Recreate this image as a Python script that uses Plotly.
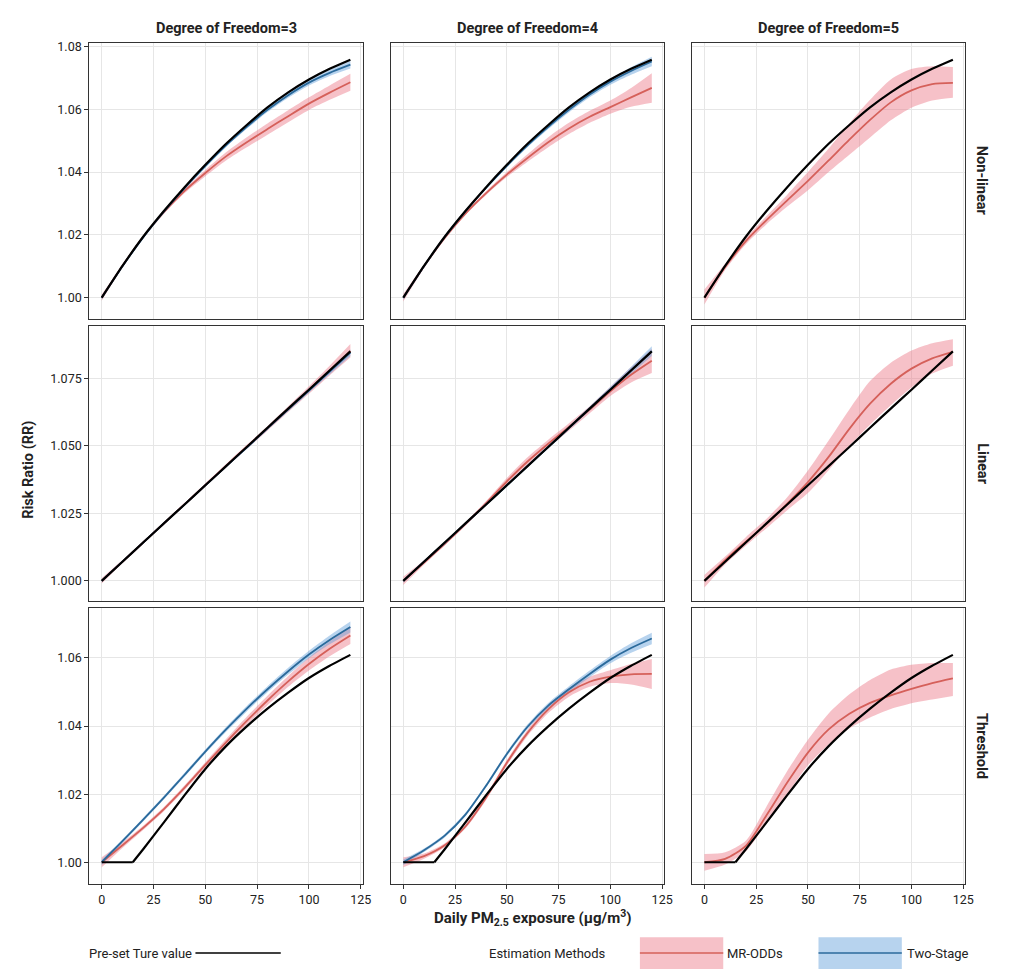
import plotly.graph_objects as go

W, H = 1013, 976

# ---------------- data ----------------
x = [0, 10, 20, 30, 40, 50, 60, 70, 80, 90, 100, 110, 120]
x_thr = [0, 15, 20, 30, 40, 50, 60, 70, 80, 90, 100, 110, 120]

truth_nonlinear = [1.0000, 1.0101, 1.0194, 1.0276, 1.0352, 1.0423, 1.0490, 1.0550, 1.0606, 1.0654, 1.0695, 1.0729, 1.0758]
truth_linear = [1.0000, 1.0071, 1.0142, 1.0213, 1.0283, 1.0354, 1.0425, 1.0496, 1.0567, 1.0638, 1.0708, 1.0779, 1.0850]
truth_threshold = [1.0000, 1.0000, 1.0038, 1.0117, 1.0197, 1.0274, 1.0341, 1.0399, 1.0451, 1.0498, 1.0541, 1.0577, 1.0609]

# Non-linear
mr_nl_df3 = [1.0000, 1.0101, 1.0193, 1.0272, 1.0340, 1.0397, 1.0450, 1.0495, 1.0537, 1.0578, 1.0618, 1.0653, 1.0686]
mr_nl_df3_se = [0.0010, 0.0005, 0.0004, 0.0005, 0.0007, 0.0010, 0.0013, 0.0016, 0.0018, 0.0019, 0.0020, 0.0023, 0.0027]
ts_nl_df3 = [1.0000, 1.0100, 1.0192, 1.0274, 1.0349, 1.0419, 1.0485, 1.0544, 1.0598, 1.0645, 1.0685, 1.0716, 1.0742]
ts_nl_df3_se = [0.0006, 0.0004, 0.0003, 0.0003, 0.0003, 0.0004, 0.0005, 0.0006, 0.0007, 0.0008, 0.0009, 0.0010, 0.0012]

mr_nl_df4 = [1.0000, 1.0100, 1.0190, 1.0268, 1.0333, 1.0392, 1.0445, 1.0495, 1.0539, 1.0576, 1.0607, 1.0638, 1.0668]
mr_nl_df4_se = [0.0012, 0.0006, 0.0004, 0.0005, 0.0006, 0.0008, 0.0012, 0.0016, 0.0018, 0.0019, 0.0021, 0.0030, 0.0047]
ts_nl_df4 = [1.0000, 1.0100, 1.0193, 1.0275, 1.0350, 1.0420, 1.0485, 1.0544, 1.0598, 1.0647, 1.0688, 1.0722, 1.0752]
ts_nl_df4_se = [0.0007, 0.0004, 0.0003, 0.0003, 0.0004, 0.0005, 0.0006, 0.0007, 0.0008, 0.0009, 0.0010, 0.0012, 0.0015]

mr_nl_df5 = [1.0000, 1.0098, 1.0180, 1.0247, 1.0310, 1.0372, 1.0437, 1.0503, 1.0566, 1.0622, 1.0660, 1.0680, 1.0684]
mr_nl_df5_lo = [0.9978, 1.0088, 1.0170, 1.0234, 1.0290, 1.0342, 1.0400, 1.0455, 1.0510, 1.0565, 1.0605, 1.0628, 1.0637]
mr_nl_df5_hi = [1.0026, 1.0108, 1.0190, 1.0260, 1.0328, 1.0400, 1.0475, 1.0555, 1.0630, 1.0695, 1.0728, 1.0737, 1.0735]

# Linear
mr_li_df3 = [1.0000, 1.0071, 1.0142, 1.0213, 1.0284, 1.0355, 1.0426, 1.0496, 1.0565, 1.0636, 1.0707, 1.0779, 1.0852]
mr_li_df3_se = [0.0010, 0.0006, 0.0005, 0.0005, 0.0005, 0.0006, 0.0007, 0.0008, 0.0009, 0.0011, 0.0014, 0.0018, 0.0025]
ts_li_df3 = [1.0000, 1.0071, 1.0142, 1.0213, 1.0283, 1.0354, 1.0424, 1.0494, 1.0565, 1.0635, 1.0705, 1.0775, 1.0845]
ts_li_df3_se = [0.0005, 0.0004, 0.0003, 0.0003, 0.0003, 0.0004, 0.0004, 0.0005, 0.0006, 0.0007, 0.0008, 0.0010, 0.0012]

mr_li_df4 = [1.0000, 1.0068, 1.0137, 1.0210, 1.0288, 1.0368, 1.0442, 1.0508, 1.0570, 1.0634, 1.0702, 1.0763, 1.0815]
mr_li_df4_se = [0.0015, 0.0008, 0.0006, 0.0006, 0.0008, 0.0013, 0.0016, 0.0015, 0.0014, 0.0013, 0.0017, 0.0028, 0.0045]
ts_li_df4 = [1.0000, 1.0071, 1.0141, 1.0212, 1.0283, 1.0354, 1.0425, 1.0496, 1.0567, 1.0638, 1.0709, 1.0780, 1.0851]
ts_li_df4_se = [0.0006, 0.0004, 0.0003, 0.0003, 0.0004, 0.0005, 0.0005, 0.0006, 0.0007, 0.0008, 0.0010, 0.0013, 0.0018]

mr_li_df5 = [1.0000, 1.0077, 1.0145, 1.0211, 1.0286, 1.0366, 1.0459, 1.0563, 1.0656, 1.0730, 1.0786, 1.0824, 1.0848]
mr_li_df5_lo = [0.9975, 1.0061, 1.0130, 1.0195, 1.0262, 1.0325, 1.0410, 1.0500, 1.0578, 1.0650, 1.0716, 1.0768, 1.0797]
mr_li_df5_hi = [1.0022, 1.0090, 1.0162, 1.0230, 1.0310, 1.0409, 1.0520, 1.0635, 1.0740, 1.0808, 1.0853, 1.0880, 1.0895]

# Threshold
mr_th_df3 = [1.0000, 1.0050, 1.0101, 1.0156, 1.0219, 1.0286, 1.0352, 1.0415, 1.0475, 1.0531, 1.0582, 1.0627, 1.0666]
mr_th_df3_se = [0.0015, 0.0008, 0.0006, 0.0006, 0.0007, 0.0008, 0.0010, 0.0012, 0.0014, 0.0016, 0.0019, 0.0022, 0.0025]
ts_th_df3 = [1.0000, 1.0062, 1.0125, 1.0190, 1.0257, 1.0325, 1.0390, 1.0451, 1.0508, 1.0561, 1.0610, 1.0653, 1.0691]
ts_th_df3_se = [0.0008, 0.0005, 0.0005, 0.0005, 0.0006, 0.0006, 0.0007, 0.0008, 0.0009, 0.0010, 0.0011, 0.0013, 0.0016]

mr_th_df4 = [1.0000, 1.0018, 1.0050, 1.0105, 1.0190, 1.0292, 1.0380, 1.0449, 1.0499, 1.0530, 1.0545, 1.0552, 1.0553]
mr_th_df4_se = [0.0015, 0.0008, 0.0006, 0.0006, 0.0007, 0.0008, 0.0009, 0.0011, 0.0013, 0.0015, 0.0019, 0.0030, 0.0044]
ts_th_df4 = [1.0000, 1.0035, 1.0078, 1.0140, 1.0225, 1.0318, 1.0398, 1.0460, 1.0508, 1.0553, 1.0595, 1.0629, 1.0657]
ts_th_df4_se = [0.0008, 0.0005, 0.0005, 0.0005, 0.0005, 0.0006, 0.0007, 0.0008, 0.0009, 0.0010, 0.0011, 0.0014, 0.0017]

mr_th_df5 = [1.0000, 1.0010, 1.0048, 1.0138, 1.0234, 1.0322, 1.0390, 1.0436, 1.0468, 1.0490, 1.0509, 1.0526, 1.0540]
mr_th_df5_lo = [0.9975, 0.9993, 1.0032, 1.0115, 1.0200, 1.0285, 1.0346, 1.0393, 1.0425, 1.0450, 1.0467, 1.0478, 1.0488]
mr_th_df5_hi = [1.0024, 1.0029, 1.0063, 1.0164, 1.0268, 1.0360, 1.0437, 1.0493, 1.0535, 1.0566, 1.0580, 1.0585, 1.0585]

col_titles = ["Degree of Freedom=3", "Degree of Freedom=4", "Degree of Freedom=5"]
row_titles = ["Non-linear", "Linear", "Threshold"]
x_ticks = [0, 25, 50, 75, 100, 125]
y_ticks_rows = [[1.00, 1.02, 1.04, 1.06, 1.08],
                [1.000, 1.025, 1.050, 1.075],
                [1.00, 1.02, 1.04, 1.06]]
y_fmt_rows = [".2f", ".3f", ".2f"]
y_range_rows = [[0.9933, 1.0810], [0.9926, 1.0944], [0.9935, 1.0746]]
x_range = [-6, 126]

def lohi(c, se):
    return [a - b for a, b in zip(c, se)], [a + b for a, b in zip(c, se)]

panels = {}
for (r, c, mr, mrse, ts, tsse) in [
    (0, 0, mr_nl_df3, mr_nl_df3_se, ts_nl_df3, ts_nl_df3_se),
    (0, 1, mr_nl_df4, mr_nl_df4_se, ts_nl_df4, ts_nl_df4_se),
    (1, 0, mr_li_df3, mr_li_df3_se, ts_li_df3, ts_li_df3_se),
    (1, 1, mr_li_df4, mr_li_df4_se, ts_li_df4, ts_li_df4_se),
    (2, 0, mr_th_df3, mr_th_df3_se, ts_th_df3, ts_th_df3_se),
    (2, 1, mr_th_df4, mr_th_df4_se, ts_th_df4, ts_th_df4_se)]:
    ml, mh = lohi(mr, mrse)
    tl, th = lohi(ts, tsse)
    panels[(r, c)] = dict(mr=mr, mlo=ml, mhi=mh, ts=ts, tlo=tl, thi=th)
panels[(0, 2)] = dict(mr=mr_nl_df5, mlo=mr_nl_df5_lo, mhi=mr_nl_df5_hi, ts=None)
panels[(1, 2)] = dict(mr=mr_li_df5, mlo=mr_li_df5_lo, mhi=mr_li_df5_hi, ts=None)
panels[(2, 2)] = dict(mr=mr_th_df5, mlo=mr_th_df5_lo, mhi=mr_th_df5_hi, ts=None)
truths = [(x, truth_nonlinear), (x, truth_linear), (x_thr, truth_threshold)]

# ---------------- styles ----------------
RED = "#D5605A"
RED_FILL = "rgba(236,118,132,0.45)"
BLUE = "#2B6A9B"
BLUE_FILL = "rgba(96,158,218,0.45)"
FONT = "Roboto"
TXT = "#222222"
SM = 0.7

col_px = [(90, 365.7), (394, 669.5), (697.5, 973)]
row_px = [(39.5, 316), (323.3, 599.3), (606.7, 884)]

fig = go.Figure()
layout = dict(width=W, height=H, margin=dict(l=0, r=0, t=0, b=0),
              paper_bgcolor="white", plot_bgcolor="white",
              font=dict(family=FONT, size=12, color=TXT), showlegend=False)

def band(xa, lo, hi, fill, xr, yr):
    fig.add_trace(go.Scatter(x=xa, y=lo, mode="lines", line=dict(width=0, shape="spline", smoothing=SM),
                             xaxis=xr, yaxis=yr, hoverinfo="skip"))
    fig.add_trace(go.Scatter(x=xa, y=hi, mode="lines", line=dict(width=0, shape="spline", smoothing=SM),
                             fill="tonexty", fillcolor=fill, xaxis=xr, yaxis=yr, hoverinfo="skip"))

for r in range(3):
    for c in range(3):
        k = r * 3 + c + 1
        xr, yr = f"x{k}", f"y{k}"
        p = panels[(r, c)]
        band(x, p["mlo"], p["mhi"], RED_FILL, xr, yr)
        if p["ts"] is not None:
            band(x, p["tlo"], p["thi"], BLUE_FILL, xr, yr)
        fig.add_trace(go.Scatter(x=x, y=p["mr"], mode="lines",
                                 line=dict(color=RED, width=1.8, shape="spline", smoothing=SM),
                                 xaxis=xr, yaxis=yr))
        if p["ts"] is not None:
            fig.add_trace(go.Scatter(x=x, y=p["ts"], mode="lines",
                                     line=dict(color=BLUE, width=1.8, shape="spline", smoothing=SM),
                                     xaxis=xr, yaxis=yr))
        tx, ty = truths[r]
        if r == 2:
            fig.add_trace(go.Scatter(x=tx[:2], y=ty[:2], mode="lines",
                                     line=dict(color="black", width=2.2),
                                     xaxis=xr, yaxis=yr))
            fig.add_trace(go.Scatter(x=tx[1:], y=ty[1:], mode="lines",
                                     line=dict(color="black", width=2.2, shape="spline", smoothing=0.5),
                                     xaxis=xr, yaxis=yr))
        else:
            fig.add_trace(go.Scatter(x=tx, y=ty, mode="lines",
                                     line=dict(color="black", width=2.2, shape="spline", smoothing=0.6),
                                     xaxis=xr, yaxis=yr))

        sfx = "" if k == 1 else str(k)
        x0, x1 = col_px[c]
        y0, y1 = row_px[r]
        layout["xaxis" + sfx] = dict(
            domain=[x0 / W, x1 / W], range=x_range, anchor=yr,
            tickvals=x_ticks, showticklabels=(r == 2), ticks="outside" if r == 2 else "",
            ticklen=4, tickcolor="#333333", tickwidth=1,
            tickfont=dict(size=12.5, color=TXT, family=FONT),
            showgrid=True, gridcolor="#E6E6E6", gridwidth=1, zeroline=False,
            showline=True, mirror=True, linecolor="#333333", linewidth=1.2)
        layout["yaxis" + sfx] = dict(
            domain=[1 - y1 / H, 1 - y0 / H], range=y_range_rows[r], anchor=xr,
            tickvals=y_ticks_rows[r], tickformat=y_fmt_rows[r],
            showticklabels=(c == 0), ticks="outside" if c == 0 else "",
            ticklen=4, tickcolor="#333333", tickwidth=1,
            tickfont=dict(size=12.5, color=TXT, family=FONT),
            showgrid=True, gridcolor="#E6E6E6", gridwidth=1, zeroline=False,
            showline=True, mirror=True, linecolor="#333333", linewidth=1.2)

ann = []
for c in range(3):
    x0, x1 = col_px[c]
    ann.append(dict(text=f"<b>{col_titles[c]}</b>", x=(x0 + x1) / 2 / W, y=1 - 25 / H,
                    xref="paper", yref="paper", showarrow=False, xanchor="center", yanchor="middle",
                    font=dict(size=14.5, color=TXT, family=FONT)))
for r in range(3):
    y0, y1 = row_px[r]
    ann.append(dict(text=f"<b>{row_titles[r]}</b>", x=990 / W, y=1 - (y0 + y1) / 2 / H,
                    xref="paper", yref="paper", showarrow=False, xanchor="center", yanchor="middle",
                    textangle=90, font=dict(size=14.5, color=TXT, family=FONT)))
ann.append(dict(text="<b>Risk Ratio (RR)</b>", x=28 / W, y=1 - 468 / H, xref="paper", yref="paper",
                showarrow=False, textangle=-90, xanchor="center", yanchor="middle",
                font=dict(size=14.5, color=TXT, family=FONT)))
ann.append(dict(text="<b>Daily PM<sub>2.5</sub> exposure (µg/m<sup>3</sup>)</b>", x=537 / W, y=1 - 918 / H,
                xref="paper", yref="paper", showarrow=False, xanchor="center", yanchor="middle",
                font=dict(size=15, color=TXT, family=FONT)))

# legend (drawn in paper coordinates)
LY = 953
LF = dict(size=13, color=TXT, family=FONT)
ann.append(dict(text="Pre-set Ture value", x=88 / W, y=1 - LY / H, xref="paper", yref="paper",
                showarrow=False, xanchor="left", yanchor="middle", font=LF))
ann.append(dict(text="Estimation Methods", x=491 / W, y=1 - LY / H, xref="paper", yref="paper",
                showarrow=False, xanchor="left", yanchor="middle", font=LF))
ann.append(dict(text="MR-ODDs", x=731 / W, y=1 - LY / H, xref="paper", yref="paper",
                showarrow=False, xanchor="left", yanchor="middle", font=LF))
ann.append(dict(text="Two-Stage", x=912 / W, y=1 - LY / H, xref="paper", yref="paper",
                showarrow=False, xanchor="left", yanchor="middle", font=LF))
shapes = [
    dict(type="line", xref="paper", yref="paper", x0=197 / W, x1=283 / W, y0=1 - LY / H, y1=1 - LY / H,
         line=dict(color="black", width=1.5)),
    dict(type="rect", xref="paper", yref="paper", x0=645 / W, x1=729 / W, y0=1 - 969 / H, y1=1 - 937 / H,
         fillcolor=RED_FILL, line=dict(width=0)),
    dict(type="line", xref="paper", yref="paper", x0=645 / W, x1=729 / W, y0=1 - LY / H, y1=1 - LY / H,
         line=dict(color=RED, width=1.5)),
    dict(type="rect", xref="paper", yref="paper", x0=825 / W, x1=909 / W, y0=1 - 969 / H, y1=1 - 937 / H,
         fillcolor=BLUE_FILL, line=dict(width=0)),
    dict(type="line", xref="paper", yref="paper", x0=825 / W, x1=909 / W, y0=1 - LY / H, y1=1 - LY / H,
         line=dict(color=BLUE, width=1.5)),
]
layout["annotations"] = ann
layout["shapes"] = shapes
fig.update_layout(**layout)
fig.write_html("out.html", config={"displayModeBar": False},
               post_script="document.body.style.margin='0px';document.body.style.overflow='hidden';")
